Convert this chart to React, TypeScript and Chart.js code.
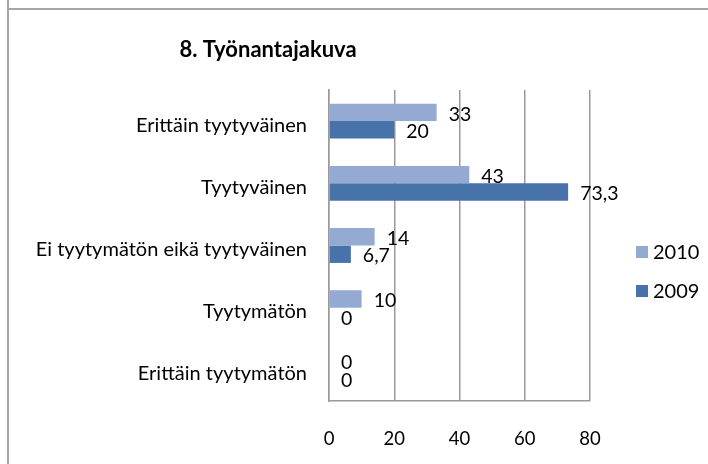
import React, { useEffect, useRef } from "react";
import { Chart, registerables } from "chart.js";

Chart.register(...registerables);

const categories = [
  "Erittäin tyytyväinen",
  "Tyytyväinen",
  "Ei tyytymätön eikä tyytyväinen",
  "Tyytymätön",
  "Erittäin tyytymätön",
];
const series2010 = [33, 43, 14, 10, 0];
const series2009 = [20, 73.3, 6.7, 0, 0];
const seriesNames = ["2010", "2009"];
const xTicks = [0, 20, 40, 60, 80];
const titleText = "8. Työnantajakuva";

const FONT = "Lato, 'Open Sans', sans-serif";
const COLOR_2010 = "#95AAD3";
const COLOR_2009 = "#4772AA";
const GRID = "#9a9a9a";

const fmt = (v: number) => String(v).replace(".", ",");

const decorPlugin = {
  id: "decor",
  afterDraw(chart: any) {
    const ctx = chart.ctx;
    ctx.save();
    // frame
    ctx.strokeStyle = "#a6a6a6";
    ctx.lineWidth = 2;
    ctx.beginPath();
    ctx.moveTo(8, 0);
    ctx.lineTo(8, chart.height);
    ctx.moveTo(8, 9);
    ctx.lineTo(chart.width, 9);
    ctx.stroke();
    // title
    ctx.fillStyle = "#000";
    ctx.font = `bold 22px ${FONT}`;
    ctx.textAlign = "center";
    ctx.textBaseline = "middle";
    ctx.fillText(titleText, 268, 50);
    // data labels
    ctx.font = `19.5px ${FONT}`;
    ctx.textAlign = "left";
    chart.data.datasets.forEach((ds: any, di: number) => {
      const meta = chart.getDatasetMeta(di);
      meta.data.forEach((bar: any, i: number) => {
        ctx.fillText(fmt(ds.data[i]), bar.x + 12, bar.y + 2);
      });
    });
    // legend
    ctx.font = `20px ${FONT}`;
    ctx.textBaseline = "middle";
    chart.data.datasets.forEach((ds: any, di: number) => {
      const y = 252 + di * 39;
      ctx.fillStyle = ds.backgroundColor;
      ctx.fillRect(636, y - 6, 12, 12);
      ctx.fillStyle = "#000";
      ctx.fillText(ds.label, 653, y + 1);
    });
    ctx.restore();
  },
};

export default function App() {
  const ref = useRef<HTMLCanvasElement>(null);
  useEffect(() => {
    document.body.style.margin = "0";
    const chart = new Chart(ref.current!, {
      type: "bar",
      data: {
        labels: categories,
        datasets: [
          { label: seriesNames[0], data: series2010, backgroundColor: COLOR_2010 },
          { label: seriesNames[1], data: series2009, backgroundColor: COLOR_2009 },
        ],
      },
      options: {
        indexAxis: "y",
        animation: false,
        responsive: false,
        layout: { padding: { top: 90, right: 118, left: 0, bottom: 0 } },
        datasets: { bar: { categoryPercentage: 0.56, barPercentage: 1 } },
        plugins: { legend: { display: false }, tooltip: { enabled: false }, title: { display: false } },
        scales: {
          x: {
            min: 0,
            max: 80,
            afterBuildTicks: (s: any) => {
              s.ticks = xTicks.map((v) => ({ value: v }));
            },
            afterFit: (s: any) => {
              s.height = 63;
            },
            grid: { color: GRID, lineWidth: 1.5, drawTicks: false },
            border: { color: GRID, width: 1.5 },
            ticks: { color: "#000", font: { family: FONT, size: 18.5 }, padding: 27 },
          },
          y: {
            afterFit: (s: any) => {
              s.width = 329;
            },
            grid: { display: false, drawTicks: false },
            border: { color: GRID, width: 1.5 },
            ticks: { color: "#000", font: { family: FONT, size: 20 }, padding: 22, labelOffset: 4 },
          },
        },
      },
      plugins: [decorPlugin],
    });
    return () => chart.destroy();
  }, []);
  return <canvas ref={ref} width={708} height={464} style={{ display: "block" }} />;
}
